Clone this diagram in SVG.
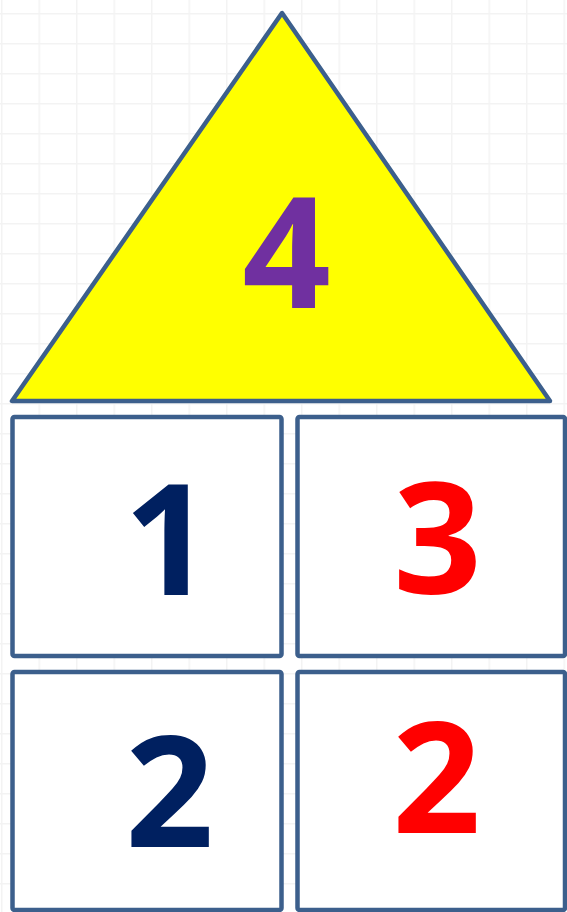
<svg xmlns="http://www.w3.org/2000/svg" width="567" height="912" viewBox="0 0 567 912">
<defs>
<pattern id="grid" width="37.5" height="30" patternUnits="userSpaceOnUse" x="1" y="13">
<path d="M0 0H37.5M0 0V30" fill="none" stroke="#f3f3f3" stroke-width="3"/>
</pattern>
</defs>
<style>
.shape{stroke:#3c5f8c;stroke-width:4.5;stroke-linejoin:round}
.box{fill:#ffffff}
.num{font-family:"Open Sans","Noto Sans",sans-serif;font-weight:bold;font-size:155px;text-anchor:middle}
</style>
<rect width="567" height="912" fill="#ffffff"/>
<rect width="567" height="912" fill="url(#grid)"/>
<g id="roof">
<polygon class="shape" points="282,13 12,401 550,401" fill="#ffff00"/>
<text class="num" x="286.5" y="308" fill="#7030a0">4</text>
</g>
<g id="box-top-left">
<rect class="shape box" x="12.5" y="417" width="269" height="239" rx="2"/>
<text class="num" x="168" y="595" fill="#002060">1</text>
</g>
<g id="box-top-right">
<rect class="shape box" x="297.5" y="417" width="267.5" height="239" rx="2"/>
<text class="num" x="437.5" y="593" fill="#ff0000">3</text>
</g>
<g id="box-bottom-left">
<rect class="shape box" x="12.5" y="672" width="269" height="238" rx="2"/>
<text class="num" x="169.5" y="847" fill="#002060">2</text>
</g>
<g id="box-bottom-right">
<rect class="shape box" x="297.5" y="672" width="267.5" height="238" rx="2"/>
<text class="num" x="436.5" y="833" fill="#ff0000">2</text>
</g>
<g id="connectors"/>
</svg>
